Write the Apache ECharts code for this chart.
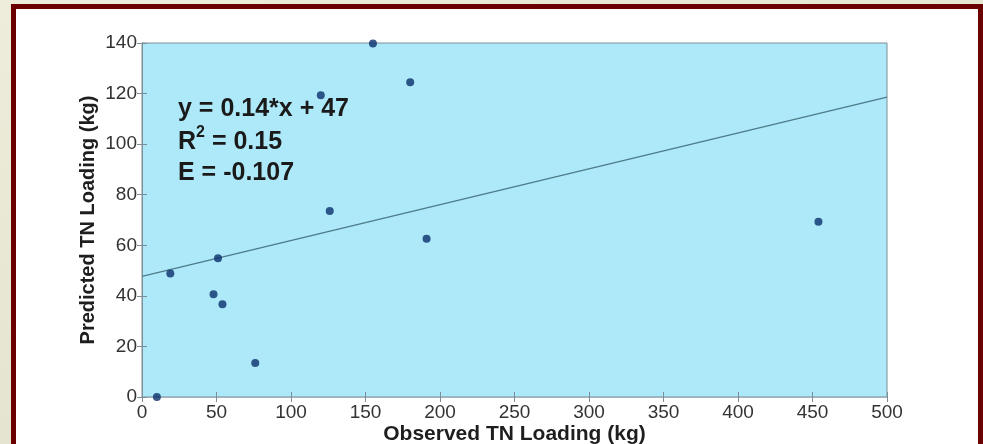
<!DOCTYPE html>
<html>
<head>
<meta charset="utf-8">
<title>Predicted vs Observed TN Loading</title>
<script src="https://cdn.jsdelivr.net/npm/echarts/dist/echarts.min.js"></script>
<style>
  html, body { margin: 0; padding: 0; }
  body {
    width: 983px; height: 444px; overflow: hidden; position: relative;
    background: linear-gradient(160deg, #eeeddb 0%, #e4e4d0 55%, #c7cbbd 100%);
  }
  #frame {
    position: absolute; left: 11px; top: 4px; width: 962px; height: 470px;
    border: 5px solid #6b0000; background: #ffffff;
  }
  #chart { position: absolute; left: 0; top: 0; width: 983px; height: 444px; }
</style>
</head>
<body>
<div id="frame"></div>
<div id="chart"></div>
<script>
// observed (x) vs predicted (y) TN loading, kg
const observed  = [10, 19, 48, 51, 54, 76, 120, 126, 155, 180, 191, 454];
const predicted = [0, 48.8, 40.6, 54.9, 36.7, 13.4, 119.3, 73.6, 139.8, 124.5, 62.6, 69.3];
// fitted line end points
const fitX = [0, 500];
const fitY = [47.7, 118.6];
const xTicks = [0, 500, 50];
const yTicks = [0, 140, 20];

const chart = echarts.init(document.getElementById('chart'));

let points = observed.map((x, i) => [x, predicted[i]]);
let fitLine = fitX.map((x, i) => [x, fitY[i]]);

const axisGray = '#7d8e97';
const font = 'Liberation Sans';

let option = {
  animation: false,
  textStyle: { fontFamily: font },
  grid: {
    left: 142, right: 96, top: 43, bottom: 47,
    outerBoundsMode: 'none',
    containLabel: false,
    show: true,
    backgroundColor: '#aee9fa',
    borderColor: axisGray,
    borderWidth: 1
  },
  xAxis: [
    {
      type: 'value', min: xTicks[0], max: xTicks[1], interval: xTicks[2],
      name: 'Observed TN Loading (kg)',
      nameLocation: 'middle', nameGap: 27, nameMoveOverlap: false,
      nameTextStyle: { fontSize: 21, fontWeight: 'bold', color: '#1e1e1e', fontFamily: font },
      axisLine: { lineStyle: { color: axisGray } },
      axisTick: { inside: true, length: 5, lineStyle: { color: axisGray } },
      axisLabel: { fontSize: 19, color: '#333', margin: 6, fontFamily: font },
      splitLine: { show: false }
    },
    {
      type: 'value', position: 'top', min: xTicks[0], max: xTicks[1], interval: xTicks[2],
      axisLine: { lineStyle: { color: '#a4b0b6' } },
      axisTick: { inside: true, length: 5, lineStyle: { color: axisGray } },
      axisLabel: { show: false },
      splitLine: { show: false }
    }
  ],
  yAxis: [
    {
      type: 'value', min: yTicks[0], max: yTicks[1], interval: yTicks[2],
      name: 'Predicted TN Loading (kg)',
      nameLocation: 'middle', nameGap: 44, nameRotate: 90, nameMoveOverlap: false,
      nameTextStyle: { fontSize: 20, fontWeight: 'bold', color: '#1e1e1e', fontFamily: font },
      axisLine: { lineStyle: { color: axisGray } },
      axisTick: { inside: true, length: 5, lineStyle: { color: axisGray } },
      axisLabel: { fontSize: 19, color: '#333', margin: 5, fontFamily: font },
      splitLine: { show: false }
    },
    {
      type: 'value', position: 'right', min: yTicks[0], max: yTicks[1], interval: yTicks[2],
      axisLine: { lineStyle: { color: axisGray } },
      axisTick: { inside: true, length: 5, lineStyle: { color: axisGray } },
      axisLabel: { show: false },
      splitLine: { show: false }
    }
  ],
  graphic: [
    {
      type: 'text', left: 178, top: 97,
      style: { text: 'y = 0.14*x + 47', font: 'bold 25px "Liberation Sans"', fill: '#1a1a1a' }
    },
    {
      type: 'text', left: 178, top: 125,
      style: {
        text: '{r|R}{s|2}{r| = 0.15}',
        fill: '#1a1a1a',
        rich: {
          r: { fontSize: 25, fontWeight: 'bold', fontFamily: font, lineHeight: 30, verticalAlign: 'bottom' },
          s: { fontSize: 16, fontWeight: 'bold', fontFamily: font, lineHeight: 30, verticalAlign: 'top' }
        }
      }
    },
    {
      type: 'text', left: 178, top: 161,
      style: { text: 'E = -0.107', font: 'bold 25px "Liberation Sans"', fill: '#1a1a1a' }
    }
  ],
  series: [
    {
      type: 'line',
      data: fitLine,
      symbol: 'none',
      lineStyle: { color: '#4d7a88', width: 1.2 },
      z: 2
    },
    {
      type: 'scatter',
      data: points,
      symbolSize: 8,
      itemStyle: { color: '#0a2f6c' },
      z: 3
    }
  ]
};

chart.setOption(option);
</script>
</body>
</html>
